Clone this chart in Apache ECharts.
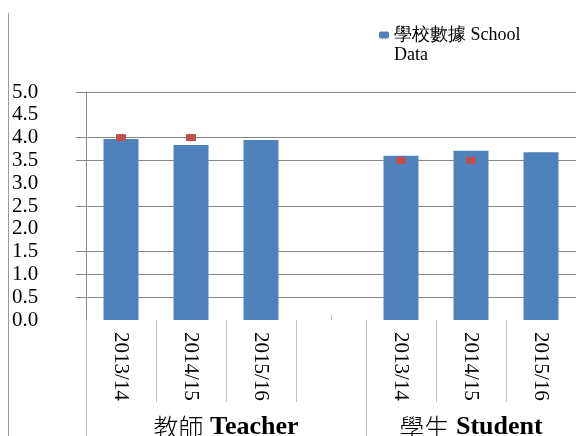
<!DOCTYPE html>
<html>
<head>
<meta charset="utf-8">
<script src="https://cdn.jsdelivr.net/npm/echarts@6/dist/echarts.min.js"></script>
<style>
  html, body { margin: 0; padding: 0; background: #fff; }
  #chart { width: 576px; height: 436px; }
</style>
</head>
<body>
<div id="chart"></div>
<script>
// years for each group, blank slot splits teacher / student
const categories = ['2013/14', '2014/15', '2015/16', '', '2013/14', '2014/15', '2015/16']
const schoolData = [3.97, 3.84, 3.95, null, 3.60, 3.71, 3.68]
const targetData = [4.0, 4.0, null, null, 3.5, 3.5, null]
const groupNames = ['教師', '學生']
const groupNamesEn = ['Teacher', 'Student']
const groupCenters = [2, 5.5]      // position on the 0..7 category span
const groupEdges = [0, 4, 7]
const gridValues = [0.5, 1, 1.5, 2.5, 3.5, 4, 5]   // lines drawn in the original

const serif = '"Liberation Serif", "Times New Roman", serif'
const cjk = '"Noto Sans CJK TC", "Noto Sans CJK SC", sans-serif'

const chart = echarts.init(document.getElementById('chart'))

const option = {
  animation: false,
  backgroundColor: '#fff',
  grid: { left: 86, right: 0, top: 92, bottom: 116, containLabel: false, outerBoundsMode: 'none' },
  legend: {
    data: ['學校數據 School Data'],
    left: 374,
    top: 1,
    itemWidth: 10,
    itemHeight: 7,
    itemGap: 6,
    formatter: () => '{t| }\n{t|學校數據 School}\n{t|Data}',
    textStyle: {
      rich: {
        t: { fontFamily: serif, fontSize: 18, lineHeight: 20, color: '#000' }
      }
    }
  },
  xAxis: [
    {
      type: 'category',
      data: categories,
      axisLine: { show: false },
      axisTick: { show: true, interval: 0, length: 82, lineStyle: { color: '#c0c0c0' } },
      axisLabel: {
        interval: 0,
        rotate: -90,
        margin: 12,
        fontFamily: serif,
        fontSize: 21,
        color: '#000'
      }
    },
    {
      // group labels + long separators
      type: 'value',
      min: 0,
      max: 7,
      position: 'bottom',
      axisLine: { show: false },
      splitLine: { show: false },
      axisTick: {
        show: true,
        customValues: groupEdges,
        length: 116,
        lineStyle: { color: '#c0c0c0' }
      },
      axisLabel: {
        customValues: groupCenters,
        margin: 94,
        formatter: v => {
          const i = groupCenters.indexOf(v)
          return i < 0 ? '' : '{c|' + groupNames[i] + '}  {e|' + groupNamesEn[i] + '}'
        },
        rich: {
          c: { fontFamily: cjk, fontSize: 25, fontWeight: 300, color: '#000' },
          e: { fontFamily: serif, fontSize: 26, fontWeight: 'bold', color: '#000' }
        }
      }
    },
    {
      // small ticks at category centres
      type: 'category',
      data: categories,
      position: 'bottom',
      axisLine: { show: false },
      axisLabel: { show: false },
      axisTick: { show: true, inside: true, alignWithLabel: true, interval: 0, length: 5, lineStyle: { color: '#c0c0c0' } }
    }
  ],
  yAxis: {
    type: 'value',
    min: 0,
    max: 5,
    interval: 0.5,
    axisLine: { show: true, lineStyle: { color: '#868686' } },
    axisTick: { show: true, customValues: gridValues, length: 10, lineStyle: { color: '#868686' } },
    splitLine: { show: false },
    axisLabel: {
      align: 'left',
      margin: 74,
      fontFamily: serif,
      fontSize: 21,
      padding: [3, 0, 0, 0],
      color: '#000',
      formatter: v => v.toFixed(1)
    }
  },
  graphic: [
    {
      type: 'line',
      shape: { x1: 8.5, y1: 13, x2: 8.5, y2: 436 },
      style: { stroke: '#9a9a9a', lineWidth: 1 }
    }
  ],
  series: [
    {
      name: 'grid',
      type: 'line',
      data: [],
      z: 0,
      silent: true,
      markLine: {
        silent: true,
        z: 0,
        symbol: ['none', 'none'],
        label: { show: false },
        lineStyle: { color: '#868686', type: 'solid', width: 1 },
        data: gridValues.map(v => ({ yAxis: v }))
      }
    },
    {
      name: '學校數據 School Data',
      type: 'bar',
      data: schoolData,
      barWidth: '50%',
      z: 2,
      itemStyle: { color: '#4f81bd' }
    },
    {
      name: 'target',
      type: 'scatter',
      data: targetData,
      symbol: 'rect',
      symbolSize: [10, 7],
      z: 3,
      itemStyle: { color: '#c0504d', opacity: 1 }
    }
  ]
}

chart.setOption(option)
</script>
</body>
</html>
